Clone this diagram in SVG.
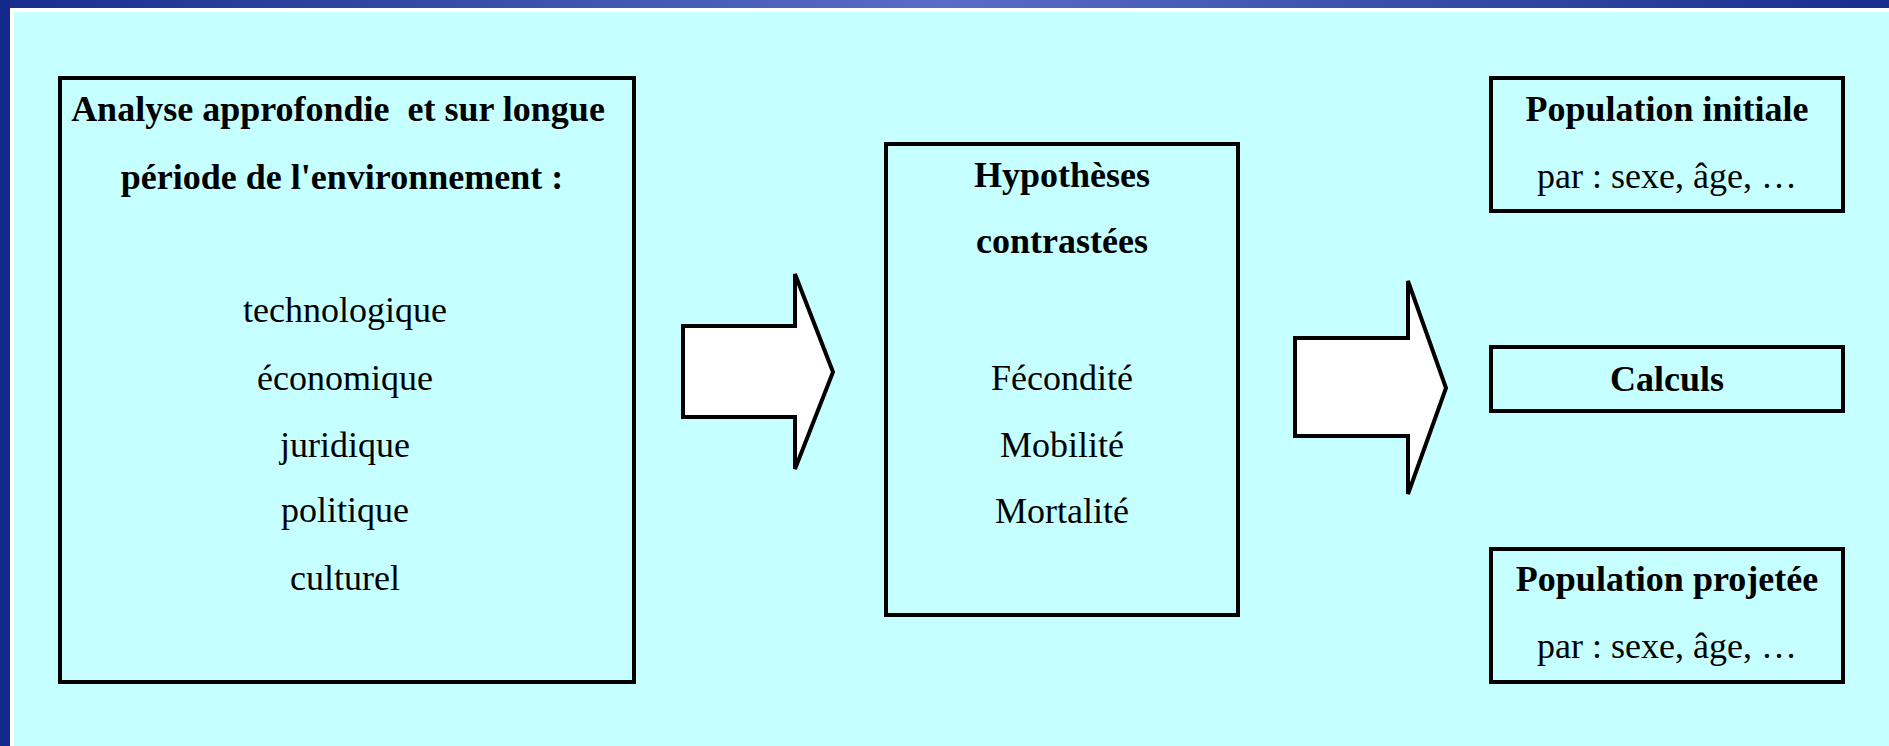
<svg xmlns="http://www.w3.org/2000/svg" width="1889" height="746" viewBox="0 0 1889 746">
<defs>
<linearGradient id="topbar" x1="0" y1="0" x2="1" y2="0">
<stop offset="0" stop-color="#1a2d8c"/>
<stop offset="0.5" stop-color="#5a6cc8"/>
<stop offset="1" stop-color="#1a2d8c"/>
</linearGradient>
<style>
.box{fill:#c6ffff;stroke:#000;stroke-width:4}
.arrow{fill:#fff;stroke:#000;stroke-width:4;stroke-linejoin:miter}
.t{font-family:"Liberation Serif","Times New Roman",serif;font-size:36px;fill:#000;text-anchor:middle}
.b{font-weight:bold}
</style>
</defs>
<rect x="0" y="0" width="1889" height="746" fill="#c6ffff"/>
<rect x="0" y="0" width="1889" height="8" fill="url(#topbar)"/>
<rect x="0" y="0" width="10" height="746" fill="#132a8c"/>
<rect x="10" y="8" width="1879" height="4" fill="#fff"/>
<rect x="10" y="8" width="4" height="738" fill="#fff"/>

<g id="environnement">
<rect class="box" x="60" y="78" width="574" height="604"/>
<text class="t b" x="338" y="121" xml:space="preserve">Analyse approfondie  et sur longue</text>
<text class="t b" x="342" y="189">période de l'environnement :</text>
<text class="t" x="345" y="322">technologique</text>
<text class="t" x="345" y="390">économique</text>
<text class="t" x="345" y="457">juridique</text>
<text class="t" x="345" y="522">politique</text>
<text class="t" x="345" y="590">culturel</text>
</g>

<g id="hypotheses">
<rect class="box" x="886" y="144" width="352" height="471"/>
<text class="t b" x="1062" y="187">Hypothèses</text>
<text class="t b" x="1062" y="253">contrastées</text>
<text class="t" x="1062" y="390">Fécondité</text>
<text class="t" x="1062" y="457">Mobilité</text>
<text class="t" x="1062" y="523">Mortalité</text>
</g>

<g id="population-initiale">
<rect class="box" x="1491" y="78" width="352" height="133"/>
<text class="t b" x="1667" y="121">Population initiale</text>
<text class="t" x="1667" y="188">par : sexe, âge, …</text>
</g>

<g id="calculs">
<rect class="box" x="1491" y="347" width="352" height="64"/>
<text class="t b" x="1667" y="391">Calculs</text>
</g>

<g id="population-projetee">
<rect class="box" x="1491" y="549" width="352" height="133"/>
<text class="t b" x="1667" y="591">Population projetée</text>
<text class="t" x="1667" y="658">par : sexe, âge, …</text>
</g>

<g id="connectors">
<polygon class="arrow" points="683,326 795,326 795,274 833,372 795,469 795,417 683,417"/>
<polygon class="arrow" points="1295,338 1408,338 1408,281 1446,388 1408,494 1408,436 1295,436"/>
</g>
</svg>
